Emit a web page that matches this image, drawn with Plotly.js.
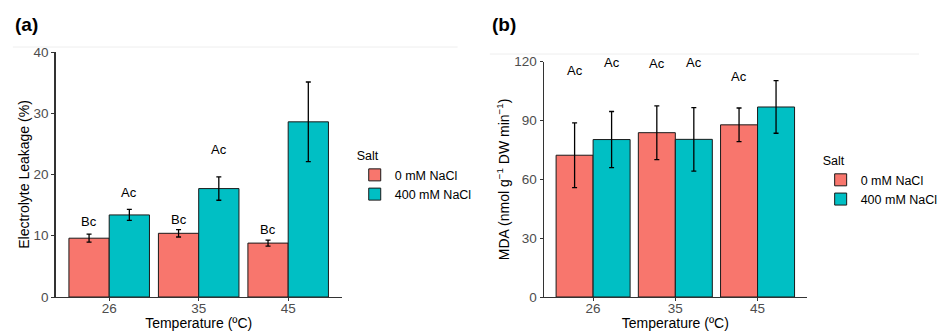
<!DOCTYPE html>
<html>
<head>
<meta charset="utf-8">
<script src="https://cdn.plot.ly/plotly-3.0.1.min.js"></script>
<style>html,body{margin:0;padding:0;background:#fff;overflow:hidden;}#chart{width:943px;height:331px;}</style>
</head>
<body>
<div id="chart"></div>
<script>
// ---- data ----
const temps = ['26', '35', '45'];
const seriesNames = ['0 mM NaCl', '400 mM NaCl'];

// (a) Electrolyte leakage (%)
const elCtrl = [9.6, 10.4, 8.8];
const elCtrlErr = [0.65, 0.6, 0.5];
const elSalt = [13.4, 17.7, 28.6];
const elSaltErr = [0.9, 1.9, 6.5];
const elCtrlLbl = ['Bc', 'Bc', 'Bc'];
const elSaltLbl = ['Ac', 'Ac', 'Ac'];
const elCtrlLblY = [12.3, 12.7, 11.1];
const elSaltLblY = [17.0, 24.1, 40.9];

// (b) MDA (nmol g-1 DW min-1)
const mdaCtrl = [72.3, 83.8, 87.8];
const mdaCtrlErr = [16.5, 13.7, 8.6];
const mdaSalt = [80.3, 80.4, 96.9];
const mdaSaltErr = [14.3, 16.2, 13.4];
const mdaCtrlLbl = ['Ac', 'Ac', 'Ac'];
const mdaSaltLbl = ['Ac', 'Ac', 'Ac'];
const mdaCtrlLblY = [115.4, 119.2, 112.4];
const mdaSaltLblY = [119.5, 119.5, 127.9];

// ---- style ----
const colCtrl = '#F8766D';
const colSalt = '#00BFC4';
const FONT = 'Liberation Sans, Arial, sans-serif';

function barTrace(y, err, name, color, xa, ya, legend) {
  return {
    type: 'bar', x: temps, y: y, name: name,
    xaxis: xa, yaxis: ya, legend: legend, showlegend: true,
    marker: { color: color, line: { color: '#1a1a1a', width: 1 } },
    error_y: { type: 'data', array: err, visible: true, color: '#000', thickness: 1.3, width: 2.5 },
    hoverinfo: 'skip'
  };
}

const data = [
  barTrace(elCtrl, elCtrlErr, seriesNames[0], colCtrl, 'x', 'y', 'legend'),
  barTrace(elSalt, elSaltErr, seriesNames[1], colSalt, 'x', 'y', 'legend'),
  barTrace(mdaCtrl, mdaCtrlErr, seriesNames[0], colCtrl, 'x2', 'y2', 'legend2'),
  barTrace(mdaSalt, mdaSaltErr, seriesNames[1], colSalt, 'x2', 'y2', 'legend2')
];

const annotations = [];
function addLabels(labels, ys, offset, xref, yref) {
  labels.forEach((t, i) => {
    annotations.push({
      x: i + offset, y: ys[i], xref: xref, yref: yref, text: t, showarrow: false,
      font: { family: FONT, size: 13, color: '#000' }
    });
  });
}
addLabels(elCtrlLbl, elCtrlLblY, -0.225, 'x', 'y');
addLabels(elSaltLbl, elSaltLblY, 0.225, 'x', 'y');
addLabels(mdaCtrlLbl, mdaCtrlLblY, -0.225, 'x2', 'y2');
addLabels(mdaSaltLbl, mdaSaltLblY, 0.225, 'x2', 'y2');
annotations.push({ x: 0.0145, y: 0.925, xref: 'paper', yref: 'paper', xanchor: 'left', yanchor: 'middle',
  text: '<b>(a)</b>', showarrow: false, font: { family: FONT, size: 19, color: '#000' } });
annotations.push({ x: 0.533, y: 0.925, xref: 'paper', yref: 'paper', xanchor: 'left', yanchor: 'middle',
  text: '<b>(b)</b>', showarrow: false, font: { family: FONT, size: 19, color: '#000' } });

const tickFont = { family: FONT, size: 13.5, color: '#4d4d4d' };
const titleFont = { family: FONT, size: 14, color: '#000' };

function xAxis(domain, anchor) {
  return {
    domain: domain, anchor: anchor, type: 'category', range: [-0.6, 2.6],
    showline: true, linecolor: '#333', linewidth: 1.2, ticks: 'outside', ticklen: 3, tickcolor: '#333',
    showgrid: false, zeroline: false, tickfont: tickFont, automargin: false, ticklabelstandoff: -4,
    title: { text: 'Temperature (ºC)', font: titleFont, standoff: 3 }
  };
}
function yAxis(domain, anchor, range, dtick, title, standoff) {
  return {
    domain: domain, anchor: anchor, range: range, dtick: dtick,
    showline: true, linecolor: '#333', linewidth: 1.2, ticks: 'outside', ticklen: 3, tickcolor: '#333',
    showgrid: false, zeroline: false, tickfont: tickFont, automargin: false,
    title: { text: title, font: titleFont, standoff: standoff }
  };
}

const legendFont = { family: FONT, size: 12.5, color: '#000' };

const layout = {
  width: 943, height: 331,
  margin: { l: 0, r: 0, t: 0, b: 0 },
  paper_bgcolor: '#fff', plot_bgcolor: '#fff',
  barmode: 'group', bargap: 0.1, bargroupgap: 0,
  font: { family: FONT },
  xaxis: xAxis([0.0604, 0.372], 'y'),
  yaxis: yAxis([0.1027, 0.8429], 'x', [0, 40], 10, 'Electrolyte Leakage (%)', 0),
  xaxis2: xAxis([0.5917, 0.878], 'y2'),
  yaxis2: yAxis([0.1027, 0.8136], 'x2', [0, 120], 30, 'MDA (nmol g<sup>−1</sup> DW min<sup>−1</sup>)', 1),
  legend: {
    x: 0.386, y: 0.565, xanchor: 'left', yanchor: 'top',
    title: { text: 'Salt', font: legendFont },
    font: legendFont, tracegroupgap: 0, itemwidth: 30
  },
  legend2: {
    x: 0.893, y: 0.55, xanchor: 'left', yanchor: 'top',
    title: { text: 'Salt', font: legendFont },
    font: legendFont, tracegroupgap: 0, itemwidth: 30
  },
  shapes: [
    { type: 'line', xref: 'paper', yref: 'paper', x0: 0.014, x1: 0.498, y0: 1 - 47 / 331, y1: 1 - 47 / 331,
      line: { color: '#eeeeee', width: 1 } },
    { type: 'line', xref: 'paper', yref: 'paper', x0: 0.533, x1: 1, y0: 1 - 54 / 331, y1: 1 - 54 / 331,
      line: { color: '#eeeeee', width: 1 } }
  ],
  annotations: annotations
};

Plotly.newPlot('chart', data, layout, { displayModeBar: false, staticPlot: true });
</script>
</body>
</html>
